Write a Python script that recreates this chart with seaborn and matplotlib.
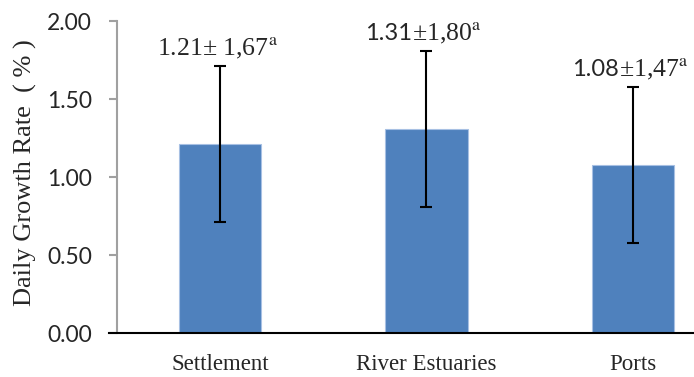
import numpy as np
import pandas as pd
import matplotlib
matplotlib.use("Agg")
import matplotlib.pyplot as plt
import seaborn as sns
from matplotlib.offsetbox import TextArea, HPacker, AnnotationBbox

# data
sites = ['Settlement', 'River Estuaries', 'Ports']
growth_mean = [1.21, 1.31, 1.08]
growth_err = [0.5, 0.5, 0.5]
# label text: (sans part, serif part)
label_sans = ['', '1.31', '1.08']
label_serif = ['1.21\u00b1 1,67', '\u00b11,80', '\u00b11,47']

df = pd.DataFrame({'site': sites, 'mean': growth_mean})

sns.set_style('white')
plt.rcParams['mathtext.fontset'] = 'stix'
serif = 'Liberation Serif'
sans = 'Lato'

fig = plt.figure(figsize=(6.94, 3.77), dpi=100)
ax = fig.add_axes([117 / 694, 44 / 377, 619 / 694, 312 / 377])

sns.barplot(data=df, x='site', y='mean', color='#4F81BD', width=0.4,
            errorbar=None, edgecolor='#A7C0E3', linewidth=0.8, saturation=1, ax=ax)
ax.errorbar(x=np.arange(len(sites)), y=growth_mean, yerr=growth_err,
            fmt='none', ecolor='black', elinewidth=1.5, capsize=4.5, capthick=1.5)

# value labels above the error bars
for i in range(len(sites)):
    parts = []
    if label_sans[i]:
        parts.append(TextArea(label_sans[i], textprops=dict(family=sans, size=17)))
    parts.append(TextArea(label_serif[i] + r'$^{\mathrm{a}}$',
                          textprops=dict(family=serif, size=18.5)))
    box = HPacker(children=parts, align='baseline', pad=0, sep=0)
    ab = AnnotationBbox(box, (i, growth_mean[i] + growth_err[i]), xybox=(-2, 3.5),
                        xycoords='data', boxcoords='offset points',
                        box_alignment=(0.5, 0), frameon=False, pad=0)
    ax.add_artist(ab)

ax.set_xlim(-0.5, 2.5)
ax.set_ylim(0, 2.0)
ax.set_yticks([0, 0.5, 1.0, 1.5, 2.0])
ax.set_yticklabels(['%.2f' % v for v in ax.get_yticks()], family=sans, fontsize=16.5)
ax.set_xticks(range(len(sites)))
ax.set_xticklabels(sites, family=serif, fontsize=16.5)
ax.tick_params(axis='x', length=0, pad=15)
ax.tick_params(axis='y', length=6, width=1.5, color='#A0A0A0', pad=12, direction='out', left=True)

ax.set_xlabel('')
ax.set_ylabel('Daily Growth Rate  ( % )', family=serif, fontsize=19)
ax.yaxis.set_label_coords(-0.129, 0.515)

for s in ['top', 'right']:
    ax.spines[s].set_visible(False)
ax.spines['left'].set_color('#A0A0A0')
ax.spines['left'].set_linewidth(1.5)
ax.spines['bottom'].set_color('black')
ax.spines['bottom'].set_linewidth(1.5)
ax.spines['bottom'].set_bounds(-0.5 - 8 / 206.5, 2.5)

fig.savefig('out.png', dpi=100)
